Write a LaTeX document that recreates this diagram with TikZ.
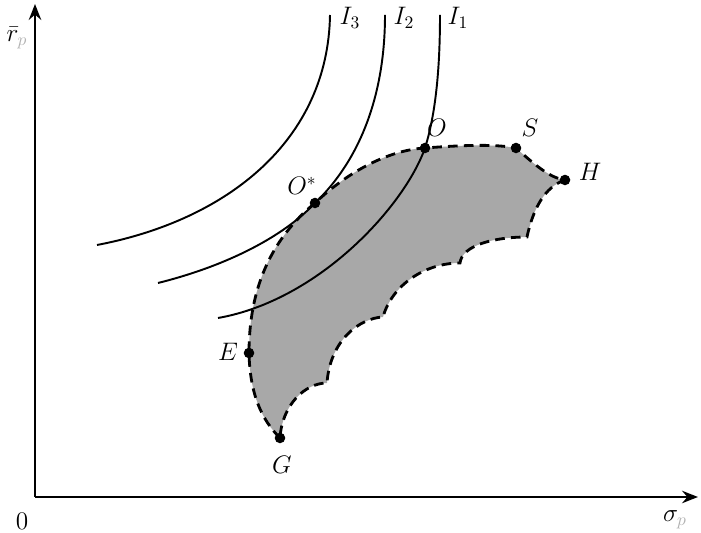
\documentclass[tikz,border=0pt]{standalone}
\usepackage{tikz}
\usepackage{amsmath}
\usetikzlibrary{arrows.meta}

\definecolor{regionGray}{RGB}{168,168,168}

\tikzset{
  axis/.style={line width=1.6pt,-{Stealth[length=9pt,width=7pt]}},
  icurve/.style={line width=1.1pt},
  region/.style={fill=regionGray,draw=black,line width=1.6pt,
                 dash pattern=on 5.5pt off 3.5pt},
  ptdot/.style={circle,fill=black,inner sep=0pt,minimum size=6pt},
  lbl/.style={font=\Large,inner sep=1pt}
}

\begin{document}
\begin{tikzpicture}[x=0.02cm,y=-0.02cm]

    \useasboundingbox (0,0) rectangle (701,533);

    % ── PONTOS ────────────────────────────────────────────
    \coordinate (G)  at (280,438);
    \coordinate (E)  at (249,353);
    \coordinate (Os) at (315,203);
    \coordinate (O)  at (425,148);
    \coordinate (S)  at (516,148);
    \coordinate (H)  at (565,180);
    \coordinate (orig) at (35,497);
    \coordinate (ytop) at (35,4);
    \coordinate (xend) at (698,497);

    % ── REGIÃO SOMBREADA ──────────────────────────────────
    \draw[region] (G) .. controls (262,420) and (250,395) .. (E)
      .. controls (249,290) and (270,240) .. (Os)
      .. controls (350,170) and (390,150) .. (O)
      .. controls (465,145) and (495,144) .. (S)
      .. controls (535,165) and (550,178) .. (H)
      .. controls (550,185) and (535,200) .. (527,237)
      .. controls (495,237) and (462,245) .. (460,263)
      .. controls (425,263) and (392,285) .. (383,317)
      .. controls (360,318) and (330,340) .. (327,383)
      .. controls (305,383) and (282,405) .. (G) -- cycle;

    % ── EIXOS ─────────────────────────────────────────────
    \draw[axis] (orig) -- (ytop);
    \draw[axis] (orig) -- (xend);

    % ── CURVAS DE INDIFERENÇA ─────────────────────────────
    \draw[icurve] (97,245) .. controls (228,220) and (328,140) .. (330,15);
    \draw[icurve] (158,283) .. controls (230,265) and (285,235) .. (Os)
      .. controls (360,160) and (385,95) .. (385,15);
    \draw[icurve] (218,318) .. controls (320,300) and (405,205) .. (O)
      .. controls (437,110) and (440,60) .. (440,15);

    % ── MARCADORES ────────────────────────────────────────
    \foreach \p in {G,E,Os,O,S,H}
      \node[ptdot] (d\p) at (\p) {};

    % ── RÓTULOS ───────────────────────────────────────────
    \node[lbl] (lG)  at (282,465) {$G$};
    \node[lbl] (lE)  at (228,352) {$E$};
    \node[lbl] (lOs) at (302,186) {$O^{*}$};
    \node[lbl] (lO)  at (437,128) {$O$};
    \node[lbl] (lS)  at (530,128) {$S$};
    \node[lbl] (lH)  at (590,172) {$H$};
    \node[lbl] (lI3) at (350,18) {$I_3$};
    \node[lbl] (lI2) at (404,18) {$I_2$};
    \node[lbl] (lI1) at (458,18) {$I_1$};
    \node[lbl] (ly)  at (17,38) {$\bar r_{\color{gray!60}p}$};
    \node[lbl] (lx)  at (675,520) {$\sigma_{\color{gray!60}p}$};
    \node[lbl] (l0)  at (22,521) {$0$};

\end{tikzpicture}
\end{document}
